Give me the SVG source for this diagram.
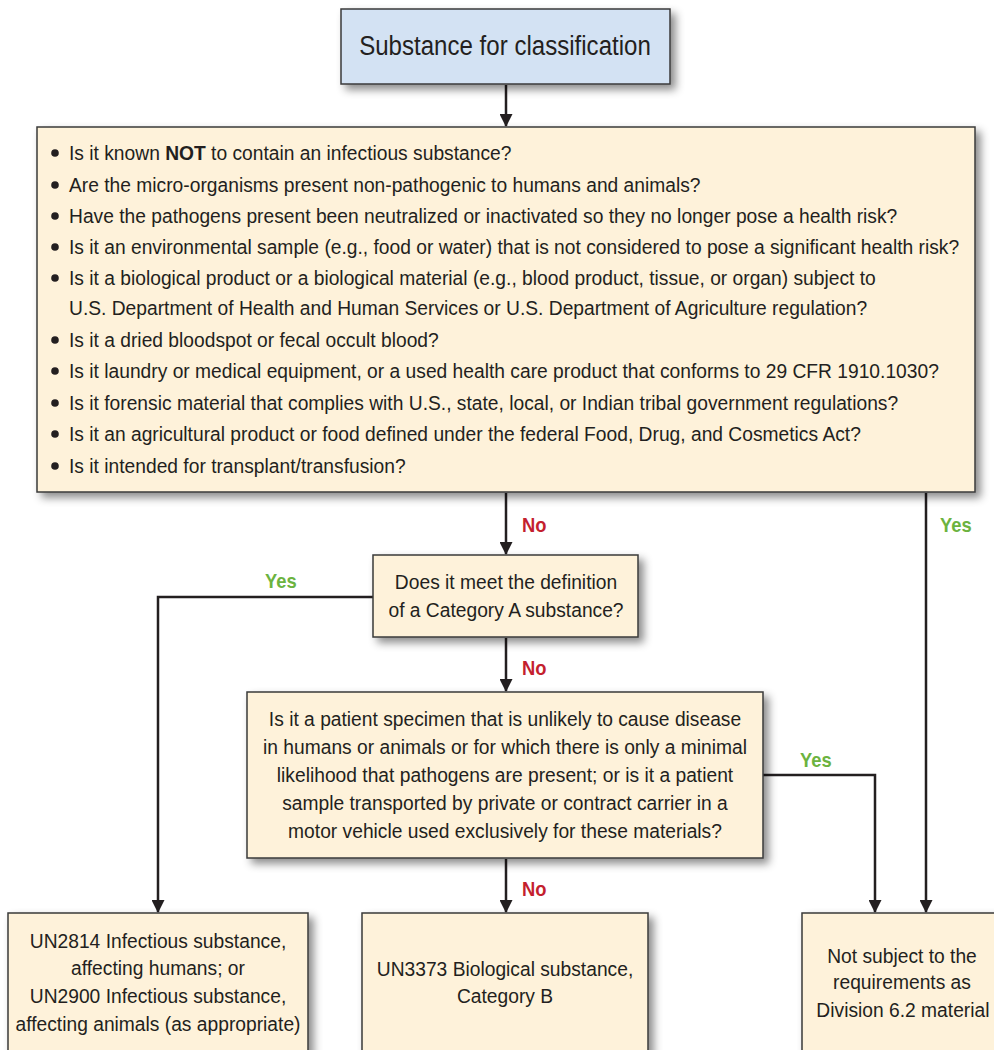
<svg xmlns="http://www.w3.org/2000/svg" width="994" height="1050" viewBox="0 0 994 1050">
<defs>
<filter id="sh" x="-10%" y="-10%" width="130%" height="130%">
<feDropShadow dx="5" dy="5" stdDeviation="4" flood-color="#000" flood-opacity="0.45"/>
</filter>
<marker id="ah" markerWidth="14" markerHeight="13" refX="12" refY="6.5" orient="auto" markerUnits="userSpaceOnUse">
<path d="M0,0 L13,6.5 L0,13 Z" fill="#231f20"/>
</marker>
<style>
.box{fill:#fef2da;stroke:#3a3a3a;stroke-width:1.5;filter:url(#sh)}
.blue{fill:#d3e2f3;stroke:#3a3a3a;stroke-width:1.5;filter:url(#sh)}
text{font-family:"Liberation Sans",Arial,sans-serif;fill:#231f20;font-size:21px}
.title{font-size:28px}
.c{text-anchor:middle}
.b{font-weight:bold}
.no{fill:#c41f2f;font-weight:bold;font-size:20px}
.yes{fill:#6cb33f;font-weight:bold;font-size:20px}
.lna{stroke:#231f20;stroke-width:2.5;fill:none;marker-end:url(#ah)}
</style>
</defs>
<rect width="994" height="1050" fill="#fff"/>
<g id="connectors">
<line class="lna" x1="506" y1="85" x2="506" y2="126"/>
<line class="lna" x1="506" y1="493" x2="506" y2="554"/>
<line class="lna" x1="926" y1="493" x2="926" y2="912"/>
<polyline class="lna" points="373,597 158,597 158,912"/>
<line class="lna" x1="506" y1="638" x2="506" y2="691"/>
<polyline class="lna" points="763,775 875,775 875,912"/>
<line class="lna" x1="506" y1="859" x2="506" y2="912"/>
<g transform="translate(522 0) scale(0.92 1)"><text class="no" x="0" y="532">No</text></g>
<g transform="translate(940 0) scale(0.92 1)"><text class="yes" x="0" y="532">Yes</text></g>
<g transform="translate(265 0) scale(0.92 1)"><text class="yes" x="0" y="588">Yes</text></g>
<g transform="translate(522 0) scale(0.92 1)"><text class="no" x="0" y="675">No</text></g>
<g transform="translate(800 0) scale(0.92 1)"><text class="yes" x="0" y="767">Yes</text></g>
<g transform="translate(522 0) scale(0.92 1)"><text class="no" x="0" y="896">No</text></g>
</g>
<g id="start">
<rect class="blue" x="341" y="9" width="329" height="75"/>
<g transform="translate(505 0) scale(0.86 1)"><text class="c title" x="0" y="55">Substance for classification</text></g>
</g>
<g id="questions">
<rect class="box" x="37" y="127" width="938" height="365"/>
<g fill="#231f20">
<circle cx="55" cy="153" r="3.8"/>
<circle cx="55" cy="185" r="3.8"/>
<circle cx="55" cy="216" r="3.8"/>
<circle cx="55" cy="247" r="3.8"/>
<circle cx="55" cy="278" r="3.8"/>
<circle cx="55" cy="340" r="3.8"/>
<circle cx="55" cy="371" r="3.8"/>
<circle cx="55" cy="403" r="3.8"/>
<circle cx="55" cy="434" r="3.8"/>
<circle cx="55" cy="466" r="3.8"/>
</g>
<g transform="translate(69 0) scale(0.916 1)">
<text x="0" y="160">Is it known <tspan class="b">NOT</tspan> to contain an infectious substance?</text>
<text x="0" y="192">Are the micro-organisms present non-pathogenic to humans and animals?</text>
<text x="0" y="223">Have the pathogens present been neutralized or inactivated so they no longer pose a health risk?</text>
<text x="0" y="254">Is it an environmental sample (e.g., food or water) that is not considered to pose a significant health risk?</text>
<text x="0" y="285">Is it a biological product or a biological material (e.g., blood product, tissue, or organ) subject to</text>
<text x="0" y="315">U.S. Department of Health and Human Services or U.S. Department of Agriculture regulation?</text>
<text x="0" y="347">Is it a dried bloodspot or fecal occult blood?</text>
<text x="0" y="378">Is it laundry or medical equipment, or a used health care product that conforms to 29 CFR 1910.1030?</text>
<text x="0" y="410">Is it forensic material that complies with U.S., state, local, or Indian tribal government regulations?</text>
<text x="0" y="441">Is it an agricultural product or food defined under the federal Food, Drug, and Cosmetics Act?</text>
<text x="0" y="473">Is it intended for transplant/transfusion?</text>
</g>
</g>
<g id="categoryA">
<rect class="box" x="373" y="555" width="265" height="82"/>
<g transform="translate(506 0) scale(0.916 1)">
<text class="c" x="0" y="589">Does it meet the definition</text>
<text class="c" x="0" y="617">of a Category A substance?</text>
</g>
</g>
<g id="patient">
<rect class="box" x="247" y="692" width="516" height="166"/>
<g transform="translate(505 0) scale(0.916 1)">
<text class="c" x="0" y="726">Is it a patient specimen that is unlikely to cause disease</text>
<text class="c" x="0" y="754">in humans or animals or for which there is only a minimal</text>
<text class="c" x="0" y="782">likelihood that pathogens are present; or is it a patient</text>
<text class="c" x="0" y="810">sample transported by private or contract carrier in a</text>
<text class="c" x="0" y="838">motor vehicle used exclusively for these materials?</text>
</g>
</g>
<g id="un2814">
<rect class="box" x="8" y="913" width="300" height="150"/>
<g transform="translate(158 0) scale(0.916 1)">
<text class="c" x="0" y="948">UN2814 Infectious substance,</text>
<text class="c" x="0" y="975">affecting humans; or</text>
<text class="c" x="0" y="1003">UN2900 Infectious substance,</text>
<text class="c" x="0" y="1031">affecting animals (as appropriate)</text>
</g>
</g>
<g id="un3373">
<rect class="box" x="362" y="913" width="286" height="150"/>
<g transform="translate(505 0) scale(0.916 1)">
<text class="c" x="0" y="976">UN3373 Biological substance,</text>
<text class="c" x="0" y="1003">Category B</text>
</g>
</g>
<g id="notsubject">
<rect class="box" x="802" y="913" width="200" height="150"/>
<g transform="translate(902 0) scale(0.916 1)">
<text class="c" x="0" y="963">Not subject to the</text>
<text class="c" x="0" y="989">requirements as</text>
<text class="c" x="1" y="1017">Division 6.2 material</text>
</g>
</g>
</svg>
